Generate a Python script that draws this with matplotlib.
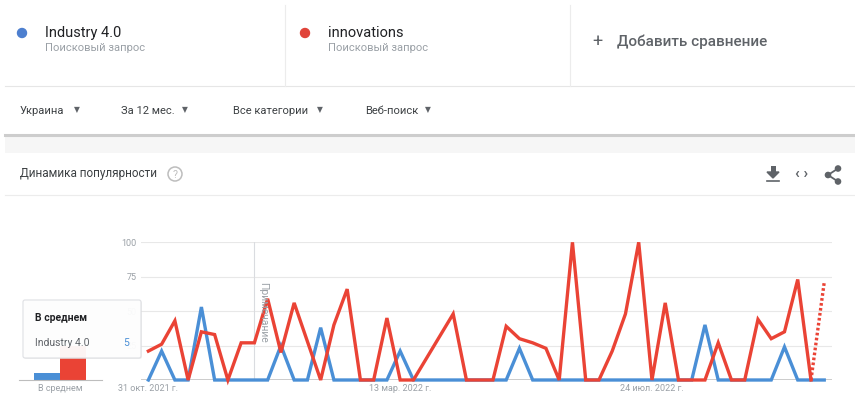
import matplotlib
matplotlib.use("Agg")
import matplotlib.pyplot as plt
import matplotlib.patches as patches
import pandas as pd

plt.rcParams['font.family'] = ['Roboto', 'DejaVu Sans']

# weekly data, starting 31 Oct 2021
dates = pd.date_range('2021-10-31', periods=52, freq='7D')
industry = [0, 21, 0, 0, 53, 0, 0, 0, 0, 0, 25, 0, 0, 38, 0, 0, 0, 0, 0, 21,
            0, 0, 0, 0, 0, 0, 0, 0, 23, 0, 0, 0, 0, 0, 0, 0, 0, 0, 0, 0,
            0, 0, 40, 0, 0, 0, 0, 0, 24, 0, 0, 0]
innovations = [21, 26, 43, 0, 35, 33, 0, 27, 27, 59, 20, 56, 28, 0, 40, 66, 0, 0, 45, 0,
               0, 16, 32, 48, 0, 0, 0, 39, 30, 27, 23, 0, 100, 0, 0, 21, 48, 100, 0, 56,
               0, 0, 0, 27, 0, 0, 44, 30, 35, 73, 0, 71]
avg_labels = ['Industry 4.0', 'innovations']
avg_values = [5, 25]
tick_dates = ['2021-10-31', '2022-03-13', '2022-07-24']
tick_labels = ['31 окт. 2021 г.', '13 мар. 2022 г.', '24 июл. 2022 г.']
note_date = '2021-12-26'

BLUE = '#4a8fd6'
RED = '#ea4335'
GRAY = '#9aa0a6'
DARK = '#3c4043'

fig = plt.figure(figsize=(8.55, 4.0), dpi=100)

# background / page layout in pixel coordinates
bg = fig.add_axes([0, 0, 1, 1], zorder=0)
bg.set_xlim(0, 855)
bg.set_ylim(400, 0)
bg.axis('off')

bg.plot([5, 855], [86, 86], color='#e6e6e6', lw=0.8)
bg.plot([285, 285], [5, 86], color='#ececec', lw=0.8)
bg.plot([570, 570], [5, 86], color='#ececec', lw=0.8)

bg.add_patch(patches.Circle((22, 33), 4.5, color='#4d7fcf'))
bg.text(45, 33, 'Industry 4.0', fontsize=10.5, color='#202124', va='center')
bg.text(45, 48, 'Поисковый запрос', fontsize=8, color=GRAY, va='center')
bg.add_patch(patches.Circle((305, 33), 4.5, color='#e0443a'))
bg.text(328, 33, 'innovations', fontsize=10.5, color='#202124', va='center')
bg.text(328, 48, 'Поисковый запрос', fontsize=8, color=GRAY, va='center')
bg.text(597, 42, '+', fontsize=13, color='#5f6368', va='center', ha='center')
bg.text(617, 42, 'Добавить сравнение', fontsize=11, color='#5f6368',
        va='center', fontweight='medium')

filters = [('Украина', 20, 77), ('За 12 мес.', 121, 185),
           ('Все категории', 233, 320), ('Веб-поиск', 365, 428)]
for label, x, xa in filters:
    bg.text(x, 111, label, fontsize=8, color=DARK, va='center')
    bg.text(xa, 110, '▼', fontsize=5.5, color='#5f6368', va='center', ha='center')

bg.add_patch(patches.Rectangle((5, 136), 850, 17, color='#f6f6f6', lw=0))
bg.plot([5, 855], [135, 135], color='#cdcdcd', lw=2.2)

bg.text(20, 174, 'Динамика популярности', fontsize=8.5, color=DARK, va='center')
bg.add_patch(patches.Circle((175, 174), 7, fc='none', ec='#bdbdbd', lw=1.1))
bg.text(175, 174.5, '?', fontsize=7.5, color='#bdbdbd', va='center', ha='center')
bg.plot([5, 855], [195, 195], color='#ececec', lw=0.8)

# download icon
bg.add_patch(patches.Polygon([[767, 172], [779, 172], [773, 178]], color='#5f6368'))
bg.add_patch(patches.Rectangle((770.5, 166), 5, 6, color='#5f6368', lw=0))
bg.plot([767, 779], [180.5, 180.5], color='#5f6368', lw=1.2)
# embed icon
bg.text(802, 173.5, '‹ ›', fontsize=11, color='#5f6368', va='center', ha='center',
        fontweight='bold')
# share icon
pts = [(838, 168.5), (828, 175), (838, 181.5)]
bg.plot([p[0] for p in pts], [p[1] for p in pts], color='#5f6368', lw=1.3)
for p in pts:
    bg.add_patch(patches.Circle(p, 2.6, color='#5f6368'))

# main line chart
ax = fig.add_axes([141 / 855, 20 / 400, 691 / 855, 137.7 / 400], zorder=2)
ax.set_facecolor('none')
ax.plot(dates, industry, color=BLUE, lw=2.4, clip_on=False, solid_joinstyle='miter')
ax.plot(dates[:-1], innovations[:-1], color=RED, lw=2.4, clip_on=False,
        solid_joinstyle='miter')
ax.plot(dates[-2:], innovations[-2:], color=RED, lw=2.4, clip_on=False,
        linestyle=(0, (0.8, 0.7)))
ax.set_xlim(dates[0] - pd.Timedelta(days=3.9), dates[-1] + pd.Timedelta(days=4.1))
ax.set_ylim(0, 100)
ax.set_yticks([25, 50, 75, 100])
ax.set_yticklabels(['25', '50', '75', '100'])
ax.set_xticks(pd.to_datetime(tick_dates))
ax.set_xticklabels(tick_labels)
ax.tick_params(length=0, labelsize=6.5, labelcolor=GRAY)
ax.tick_params(axis='y', pad=3)
ax.tick_params(axis='x', pad=3)
ax.grid(axis='y', color='#e8e8e8', lw=0.8)
ax.set_axisbelow(True)
for s in ax.spines.values():
    s.set_visible(False)
ax.axhline(0, color='#c4c4c4', lw=1.2, zorder=1)
ax.axvline(pd.Timestamp(note_date), color='#dadce0', lw=0.8, zorder=1)
ax.text(pd.Timestamp(note_date) + pd.Timedelta(days=4.5), 71, 'Примечание',
        rotation=270, ha='center', va='top', fontsize=7.5, color=GRAY)

# average bars
axb = fig.add_axes([19 / 855, 20 / 400, 83 / 855, 137.7 / 400], zorder=1)
axb.set_facecolor('none')
axb.bar([0, 1], avg_values, width=1, color=[BLUE, RED])
axb.set_xlim(-1.09, 2.12)
axb.set_ylim(0, 100)
axb.set_xticks([0.5])
axb.set_xticklabels(['В среднем'])
axb.set_yticks([])
axb.tick_params(length=0, labelsize=6.5, labelcolor=GRAY, pad=3)
for s in ['top', 'left', 'right']:
    axb.spines[s].set_visible(False)
axb.spines['bottom'].set_color('#bdbdbd')

# tooltip overlay
top = fig.add_axes([0, 0, 1, 1], zorder=5)
top.set_xlim(0, 855)
top.set_ylim(400, 0)
top.axis('off')
top.add_patch(patches.FancyBboxPatch((24, 301), 118, 58, boxstyle='round,pad=0,rounding_size=2',
                                     fc='#e6e6e6', ec='none', alpha=0.5))
top.add_patch(patches.FancyBboxPatch((23, 300), 118, 58, boxstyle='round,pad=0,rounding_size=2',
                                     fc='white', ec='#dadce0', lw=0.8, alpha=0.9))
top.text(35, 318, 'В среднем', fontsize=7.5, fontweight='bold', color='#202124', va='center')
top.text(35, 343, avg_labels[0], fontsize=7.5, color='#5f6368', va='center')
top.text(129, 343, str(avg_values[0]), fontsize=7.5, color=BLUE, va='center', ha='right')

fig.savefig('out.png', dpi=100)
